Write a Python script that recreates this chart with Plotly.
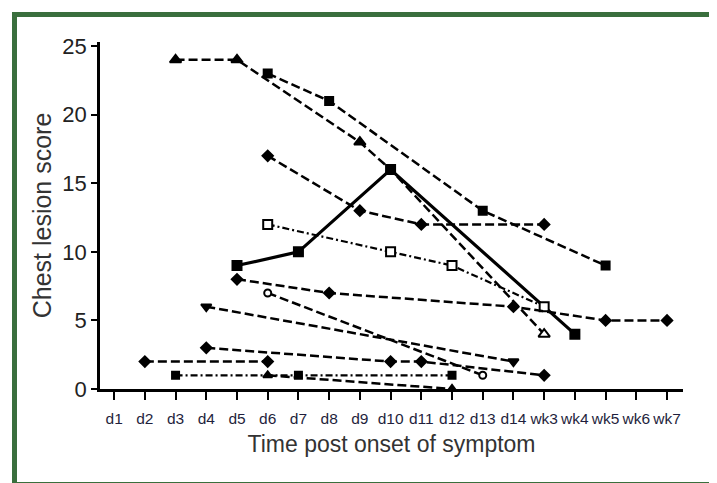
import plotly.graph_objects as go

# x categories (days then weeks post onset)
categories = ['d1', 'd2', 'd3', 'd4', 'd5', 'd6', 'd7', 'd8', 'd9', 'd10',
              'd11', 'd12', 'd13', 'd14', 'wk3', 'wk4', 'wk5', 'wk6', 'wk7']
y_ticks = [0, 5, 10, 15, 20, 25]

# one list pair per patient
p1_x = ['d3', 'd5', 'd9', 'd10', 'wk3']
p1_y = [24, 24, 18, 16, 4]
p2_x = ['d6', 'd8', 'd13', 'wk5']
p2_y = [23, 21, 13, 9]
p3_x = ['d5', 'd7', 'd10', 'wk4']
p3_y = [9, 10, 16, 4]
p4_x = ['d6', 'd9', 'd11', 'wk3']
p4_y = [17, 13, 12, 12]
p5_x = ['d6', 'd10', 'd12', 'wk3']
p5_y = [12, 10, 9, 6]
p6_x = ['d5', 'd8', 'd14', 'wk5', 'wk7']
p6_y = [8, 7, 6, 5, 5]
p7_x = ['d6', 'd13']
p7_y = [7, 1]
p8_x = ['d4', 'd14']
p8_y = [6, 2]
p9_x = ['d4', 'd10', 'd11', 'wk3']
p9_y = [3, 2, 2, 1]
p10_x = ['d2', 'd6']
p10_y = [2, 2]
p11_x = ['d3', 'd7', 'd12']
p11_y = [1, 1, 1]
p12_x = ['d6', 'd12']
p12_y = [1, 0]

DASH = '9px,4px'
DASHDOT = '7px,3px,2px,3px'

# first patient: filled triangles, open one at wk3, no marker at d10
tri_fill = ['black', 'black', 'black', 'black', 'white']
tri_size = [10, 10, 10, 0, 10]

series = [
    (p1_x, p1_y, 'triangle-up', tri_fill, DASH, 2.5, tri_size),
    (p2_x, p2_y, 'square', 'black', DASH, 2.5, 8),
    (p3_x, p3_y, 'square', 'black', 'solid', 3.2, 9),
    (p4_x, p4_y, 'diamond', 'black', DASH, 2.5, 8),
    (p5_x, p5_y, 'square', 'white', DASHDOT, 2.2, 9),
    (p6_x, p6_y, 'diamond', 'black', DASH, 2.5, 8),
    (p7_x, p7_y, 'circle', 'white', DASH, 2.5, 7),
    (p8_x, p8_y, 'triangle-down', 'black', DASH, 2.5, 9),
    (p9_x, p9_y, 'diamond', 'black', DASH, 2.5, 8),
    (p10_x, p10_y, 'diamond', 'black', DASH, 2.5, 8),
    (p11_x, p11_y, 'square', 'black', DASHDOT, 2.2, 7),
    (p12_x, p12_y, 'triangle-up', 'black', DASH, 2.5, 8),
]

fig = go.Figure()
for xs, ys, sym, fill, dash, lw, ms in series:
    fig.add_trace(go.Scatter(
        x=xs, y=ys, mode='lines+markers', cliponaxis=False, showlegend=False,
        line=dict(color='black', width=lw, dash=dash),
        marker=dict(symbol=sym, size=ms, color=fill, opacity=1,
                    line=dict(color='black', width=2)),
    ))

# plot area in pixels
L, R, T, B = 92, 675, 34, 381
W, H = 717, 483


def px_x(p):
    return (p - L) / (R - L)


def px_y(p):
    return (B - p) / (B - T)


fig.add_shape(type='rect', xref='paper', yref='paper',
              x0=px_x(6.5), x1=px_x(710.5), y0=px_y(476.5), y1=px_y(6.5),
              line=dict(color='#3a6f3d', width=5), layer='below')

fig.update_layout(
    width=W, height=H,
    margin=dict(l=L, r=W - R, t=T, b=H - B),
    plot_bgcolor='white', paper_bgcolor='white',
    font=dict(family='Arial, Liberation Sans, sans-serif', color='#222'),
    xaxis=dict(
        type='category', categoryorder='array', categoryarray=categories,
        tickvals=categories, range=[-0.46, 18.52], tickangle=0,
        showline=True, linecolor='black', linewidth=2.5,
        ticks='outside', ticklen=8, tickwidth=2, tickcolor='black',
        ticklabelstandoff=6,
        tickfont=dict(size=15.5, color='#1f1f3d'),
        showgrid=False, zeroline=False,
        title=dict(text='Time post onset of symptom', standoff=10,
                   font=dict(size=23, color='#333')),
    ),
    yaxis=dict(
        range=[0, 25.3], tickvals=y_ticks,
        showline=True, linecolor='black', linewidth=2.5,
        ticks='outside', ticklen=6, tickwidth=2, tickcolor='black',
        tickfont=dict(size=22, color='#222'),
        showgrid=False, zeroline=False,
        title=dict(text='Chest lesion score', standoff=4,
                   font=dict(size=25, color='#333')),
    ),
)

fig.write_html('out.html')
